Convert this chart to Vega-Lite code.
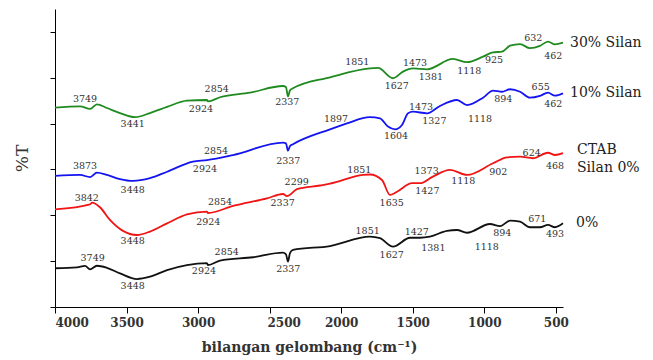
{
  "$schema": "https://vega.github.io/schema/vega-lite/v6.json",
  "width": 508,
  "height": 298,
  "autosize": {"type": "none"},
  "padding": {"left": 55, "top": 9, "right": 90, "bottom": 53},
  "config": {"view": {"stroke": null}, "font": "DejaVu Serif"},
  "datasets": {
    "spectra": [
      {"s": "30% Silan", "wn": 4000, "v": 8.70}, {"s": "30% Silan", "wn": 3825, "v": 8.75}, {"s": "30% Silan", "wn": 3755, "v": 8.64}, {"s": "30% Silan", "wn": 3707, "v": 8.84}, {"s": "30% Silan", "wn": 3637, "v": 8.68}, {"s": "30% Silan", "wn": 3546, "v": 8.46}, {"s": "30% Silan", "wn": 3441, "v": 8.28}, {"s": "30% Silan", "wn": 3336, "v": 8.46}, {"s": "30% Silan", "wn": 3217, "v": 8.73}, {"s": "30% Silan", "wn": 3078, "v": 9.00}, {"s": "30% Silan", "wn": 2938, "v": 9.03}, {"s": "30% Silan", "wn": 2931, "v": 8.97}, {"s": "30% Silan", "wn": 2847, "v": 9.15}, {"s": "30% Silan", "wn": 2637, "v": 9.35}, {"s": "30% Silan", "wn": 2407, "v": 9.64}, {"s": "30% Silan", "wn": 2386, "v": 9.60}, {"s": "30% Silan", "wn": 2372, "v": 9.18}, {"s": "30% Silan", "wn": 2358, "v": 9.45}, {"s": "30% Silan", "wn": 2337, "v": 9.54}, {"s": "30% Silan", "wn": 2078, "v": 10.02}, {"s": "30% Silan", "wn": 1799, "v": 10.41}, {"s": "30% Silan", "wn": 1743, "v": 10.43}, {"s": "30% Silan", "wn": 1638, "v": 9.98}, {"s": "30% Silan", "wn": 1568, "v": 10.27}, {"s": "30% Silan", "wn": 1498, "v": 10.41}, {"s": "30% Silan", "wn": 1400, "v": 10.37}, {"s": "30% Silan", "wn": 1219, "v": 10.82}, {"s": "30% Silan", "wn": 1121, "v": 10.68}, {"s": "30% Silan", "wn": 1009, "v": 10.92}, {"s": "30% Silan", "wn": 939, "v": 11.11}, {"s": "30% Silan", "wn": 876, "v": 11.14}, {"s": "30% Silan", "wn": 820, "v": 11.40}, {"s": "30% Silan", "wn": 750, "v": 11.47}, {"s": "30% Silan", "wn": 681, "v": 11.29}, {"s": "30% Silan", "wn": 611, "v": 11.39}, {"s": "30% Silan", "wn": 555, "v": 11.58}, {"s": "30% Silan", "wn": 506, "v": 11.46}, {"s": "30% Silan", "wn": 450, "v": 11.53},
      {"s": "10% Silan", "wn": 4000, "v": 5.72}, {"s": "10% Silan", "wn": 3825, "v": 5.76}, {"s": "10% Silan", "wn": 3755, "v": 5.67}, {"s": "10% Silan", "wn": 3707, "v": 5.86}, {"s": "10% Silan", "wn": 3637, "v": 5.76}, {"s": "10% Silan", "wn": 3546, "v": 5.58}, {"s": "10% Silan", "wn": 3455, "v": 5.50}, {"s": "10% Silan", "wn": 3336, "v": 5.62}, {"s": "10% Silan", "wn": 3217, "v": 5.90}, {"s": "10% Silan", "wn": 3036, "v": 6.34}, {"s": "10% Silan", "wn": 2938, "v": 6.41}, {"s": "10% Silan", "wn": 2756, "v": 6.63}, {"s": "10% Silan", "wn": 2407, "v": 7.17}, {"s": "10% Silan", "wn": 2386, "v": 7.14}, {"s": "10% Silan", "wn": 2372, "v": 6.82}, {"s": "10% Silan", "wn": 2358, "v": 7.02}, {"s": "10% Silan", "wn": 2337, "v": 7.10}, {"s": "10% Silan", "wn": 2078, "v": 7.75}, {"s": "10% Silan", "wn": 1960, "v": 8.01}, {"s": "10% Silan", "wn": 1799, "v": 8.28}, {"s": "10% Silan", "wn": 1729, "v": 8.23}, {"s": "10% Silan", "wn": 1673, "v": 7.87}, {"s": "10% Silan", "wn": 1624, "v": 7.75}, {"s": "10% Silan", "wn": 1575, "v": 7.94}, {"s": "10% Silan", "wn": 1533, "v": 8.45}, {"s": "10% Silan", "wn": 1498, "v": 8.52}, {"s": "10% Silan", "wn": 1400, "v": 8.45}, {"s": "10% Silan", "wn": 1310, "v": 8.77}, {"s": "10% Silan", "wn": 1191, "v": 9.03}, {"s": "10% Silan", "wn": 1121, "v": 8.81}, {"s": "10% Silan", "wn": 1009, "v": 9.13}, {"s": "10% Silan", "wn": 939, "v": 9.44}, {"s": "10% Silan", "wn": 876, "v": 9.39}, {"s": "10% Silan", "wn": 820, "v": 9.50}, {"s": "10% Silan", "wn": 750, "v": 9.39}, {"s": "10% Silan", "wn": 681, "v": 9.13}, {"s": "10% Silan", "wn": 611, "v": 9.21}, {"s": "10% Silan", "wn": 555, "v": 9.35}, {"s": "10% Silan", "wn": 506, "v": 9.22}, {"s": "10% Silan", "wn": 450, "v": 9.32},
      {"s": "CTAB Silan 0%", "wn": 4000, "v": 4.26}, {"s": "CTAB Silan 0%", "wn": 3755, "v": 4.48}, {"s": "CTAB Silan 0%", "wn": 3741, "v": 4.55}, {"s": "CTAB Silan 0%", "wn": 3686, "v": 4.35}, {"s": "CTAB Silan 0%", "wn": 3616, "v": 3.80}, {"s": "CTAB Silan 0%", "wn": 3525, "v": 3.32}, {"s": "CTAB Silan 0%", "wn": 3427, "v": 3.14}, {"s": "CTAB Silan 0%", "wn": 3336, "v": 3.29}, {"s": "CTAB Silan 0%", "wn": 3217, "v": 3.65}, {"s": "CTAB Silan 0%", "wn": 3078, "v": 4.04}, {"s": "CTAB Silan 0%", "wn": 2938, "v": 4.16}, {"s": "CTAB Silan 0%", "wn": 2931, "v": 4.10}, {"s": "CTAB Silan 0%", "wn": 2756, "v": 4.41}, {"s": "CTAB Silan 0%", "wn": 2519, "v": 4.74}, {"s": "CTAB Silan 0%", "wn": 2407, "v": 4.93}, {"s": "CTAB Silan 0%", "wn": 2379, "v": 4.84}, {"s": "CTAB Silan 0%", "wn": 2309, "v": 5.14}, {"s": "CTAB Silan 0%", "wn": 2148, "v": 5.30}, {"s": "CTAB Silan 0%", "wn": 2078, "v": 5.38}, {"s": "CTAB Silan 0%", "wn": 1848, "v": 5.76}, {"s": "CTAB Silan 0%", "wn": 1799, "v": 5.78}, {"s": "CTAB Silan 0%", "wn": 1715, "v": 5.54}, {"s": "CTAB Silan 0%", "wn": 1659, "v": 4.89}, {"s": "CTAB Silan 0%", "wn": 1610, "v": 5.03}, {"s": "CTAB Silan 0%", "wn": 1505, "v": 5.40}, {"s": "CTAB Silan 0%", "wn": 1449, "v": 5.40}, {"s": "CTAB Silan 0%", "wn": 1359, "v": 5.69}, {"s": "CTAB Silan 0%", "wn": 1240, "v": 5.98}, {"s": "CTAB Silan 0%", "wn": 1121, "v": 5.76}, {"s": "CTAB Silan 0%", "wn": 939, "v": 6.27}, {"s": "CTAB Silan 0%", "wn": 841, "v": 6.53}, {"s": "CTAB Silan 0%", "wn": 750, "v": 6.56}, {"s": "CTAB Silan 0%", "wn": 660, "v": 6.49}, {"s": "CTAB Silan 0%", "wn": 555, "v": 6.73}, {"s": "CTAB Silan 0%", "wn": 506, "v": 6.63}, {"s": "CTAB Silan 0%", "wn": 450, "v": 6.71},
      {"s": "0%", "wn": 4000, "v": 1.69}, {"s": "0%", "wn": 3846, "v": 1.73}, {"s": "0%", "wn": 3790, "v": 1.79}, {"s": "0%", "wn": 3755, "v": 1.64}, {"s": "0%", "wn": 3707, "v": 1.80}, {"s": "0%", "wn": 3637, "v": 1.71}, {"s": "0%", "wn": 3546, "v": 1.47}, {"s": "0%", "wn": 3427, "v": 1.22}, {"s": "0%", "wn": 3336, "v": 1.32}, {"s": "0%", "wn": 3217, "v": 1.61}, {"s": "0%", "wn": 3078, "v": 1.83}, {"s": "0%", "wn": 2938, "v": 1.91}, {"s": "0%", "wn": 2931, "v": 1.83}, {"s": "0%", "wn": 2847, "v": 2.02}, {"s": "0%", "wn": 2616, "v": 2.17}, {"s": "0%", "wn": 2407, "v": 2.37}, {"s": "0%", "wn": 2386, "v": 2.30}, {"s": "0%", "wn": 2372, "v": 1.98}, {"s": "0%", "wn": 2358, "v": 2.35}, {"s": "0%", "wn": 2337, "v": 2.49}, {"s": "0%", "wn": 2078, "v": 2.66}, {"s": "0%", "wn": 1799, "v": 3.07}, {"s": "0%", "wn": 1729, "v": 3.00}, {"s": "0%", "wn": 1638, "v": 2.63}, {"s": "0%", "wn": 1519, "v": 3.02}, {"s": "0%", "wn": 1449, "v": 3.02}, {"s": "0%", "wn": 1380, "v": 3.07}, {"s": "0%", "wn": 1261, "v": 3.32}, {"s": "0%", "wn": 1191, "v": 3.36}, {"s": "0%", "wn": 1121, "v": 3.24}, {"s": "0%", "wn": 960, "v": 3.62}, {"s": "0%", "wn": 890, "v": 3.53}, {"s": "0%", "wn": 820, "v": 3.77}, {"s": "0%", "wn": 750, "v": 3.72}, {"s": "0%", "wn": 681, "v": 3.48}, {"s": "0%", "wn": 611, "v": 3.48}, {"s": "0%", "wn": 555, "v": 3.58}, {"s": "0%", "wn": 506, "v": 3.48}, {"s": "0%", "wn": 450, "v": 3.65}
    ],
    "peaks": [
      {"label": "3749", "wn": 3790, "v": 9.06}, {"label": "3441", "wn": 3457, "v": 7.97}, {"label": "2854", "wn": 2870, "v": 9.50}, {"label": "2924", "wn": 2980, "v": 8.64}, {"label": "2337", "wn": 2377, "v": 8.93}, {"label": "1851", "wn": 1888, "v": 10.68}, {"label": "1627", "wn": 1612, "v": 9.66}, {"label": "1473", "wn": 1484, "v": 10.63}, {"label": "1381", "wn": 1373, "v": 10.02}, {"label": "1118", "wn": 1105, "v": 10.30}, {"label": "925", "wn": 932, "v": 10.78}, {"label": "632", "wn": 658, "v": 11.75}, {"label": "462", "wn": 518, "v": 10.95},
      {"label": "3873", "wn": 3790, "v": 6.15}, {"label": "3448", "wn": 3457, "v": 5.10}, {"label": "2854", "wn": 2875, "v": 6.82}, {"label": "2924", "wn": 2952, "v": 6.01}, {"label": "2337", "wn": 2370, "v": 6.37}, {"label": "1897", "wn": 2036, "v": 8.20}, {"label": "1604", "wn": 1617, "v": 7.46}, {"label": "1473", "wn": 1442, "v": 8.74}, {"label": "1327", "wn": 1349, "v": 8.13}, {"label": "1118", "wn": 1030, "v": 8.20}, {"label": "894", "wn": 867, "v": 9.06}, {"label": "655", "wn": 606, "v": 9.59}, {"label": "462", "wn": 518, "v": 8.86},
      {"label": "3842", "wn": 3778, "v": 4.77}, {"label": "3448", "wn": 3457, "v": 2.89}, {"label": "2854", "wn": 2847, "v": 4.57}, {"label": "2924", "wn": 2929, "v": 3.72}, {"label": "2299", "wn": 2311, "v": 5.47}, {"label": "2337", "wn": 2409, "v": 4.52}, {"label": "1851", "wn": 1874, "v": 5.98}, {"label": "1635", "wn": 1647, "v": 4.55}, {"label": "1373", "wn": 1403, "v": 5.93}, {"label": "1427", "wn": 1398, "v": 5.07}, {"label": "1118", "wn": 1147, "v": 5.51}, {"label": "902", "wn": 902, "v": 5.90}, {"label": "624", "wn": 669, "v": 6.73}, {"label": "468", "wn": 506, "v": 6.15},
      {"label": "3749", "wn": 3737, "v": 2.12}, {"label": "3448", "wn": 3457, "v": 0.93}, {"label": "2854", "wn": 2800, "v": 2.41}, {"label": "2924", "wn": 2959, "v": 1.57}, {"label": "2337", "wn": 2370, "v": 1.64}, {"label": "1851", "wn": 1815, "v": 3.32}, {"label": "1627", "wn": 1647, "v": 2.27}, {"label": "1427", "wn": 1472, "v": 3.29}, {"label": "1381", "wn": 1356, "v": 2.59}, {"label": "1118", "wn": 983, "v": 2.60}, {"label": "894", "wn": 874, "v": 3.22}, {"label": "671", "wn": 630, "v": 3.83}, {"label": "493", "wn": 506, "v": 3.17}
    ],
    "names": [
      {"label": "30% Silan", "wn": 401, "v": 11.53},
      {"label": "10% Silan", "wn": 401, "v": 9.32},
      {"label": "CTAB", "wn": 352, "v": 6.85},
      {"label": "Silan 0%", "wn": 352, "v": 6.05},
      {"label": "0%", "wn": 359, "v": 3.68}
    ]
  },
  "layer": [
    {
      "data": {"name": "spectra"},
      "mark": {"type": "line", "strokeWidth": 1.8, "interpolate": "monotone"},
      "encoding": {
        "x": {
          "field": "wn", "type": "quantitative",
          "scale": {"domain": [4000, 450], "nice": false, "zero": false},
          "axis": {
            "title": "bilangan gelombang (cm⁻¹)",
            "values": [4000, 3750, 3500, 3250, 3000, 2750, 2500, 2250, 2000, 1750, 1500, 1250, 1000, 750, 500],
            "format": "d",
            "labelExpr": "datum.value % 500 === 0 ? datum.label : ''",
            "labelOffset": {"condition": {"test": "datum.value === 2500", "value": 14}, "value": 0},
            "tickSize": {"condition": {"test": "datum.value % 500 === 0", "value": 6}, "value": 3},
            "tickColor": "#000", "domainColor": "#000", "grid": false,
            "labelFont": "DejaVu Serif", "labelFontSize": 12, "labelFontWeight": "bold", "labelColor": "#333",
            "labelPadding": 4,
            "titleFont": "DejaVu Serif", "titleFontSize": 14, "titleFontWeight": "bold", "titleColor": "#333",
            "titlePadding": 12
          }
        },
        "y": {
          "field": "v", "type": "quantitative",
          "scale": {"domain": [0, 13], "nice": false, "zero": false},
          "axis": {
            "title": "%T",
            "values": [0, 1, 2, 3, 4, 5, 6, 7, 8, 9, 10, 11, 12, 13],
            "labels": false, "tickSize": 5, "grid": false,
            "tickColor": "#000", "domainColor": "#000",
            "titleFont": "DejaVu Serif", "titleFontSize": 17, "titleFontWeight": "normal", "titleColor": "#333",
            "titlePadding": 18
          }
        },
        "color": {
          "field": "s", "type": "nominal",
          "scale": {"domain": ["30% Silan", "10% Silan", "CTAB Silan 0%", "0%"], "range": ["#1f8a1f", "#1414f0", "#f01414", "#111111"]},
          "legend": null
        }
      }
    },
    {
      "data": {"name": "peaks"},
      "mark": {"type": "text", "font": "DejaVu Serif", "fontSize": 9.5, "color": "#333", "align": "center", "baseline": "middle"},
      "encoding": {
        "x": {"field": "wn", "type": "quantitative"},
        "y": {"field": "v", "type": "quantitative"},
        "text": {"field": "label"}
      }
    },
    {
      "data": {"name": "names"},
      "mark": {"type": "text", "font": "DejaVu Serif", "fontSize": 14, "color": "#222", "align": "left", "baseline": "middle"},
      "encoding": {
        "x": {"field": "wn", "type": "quantitative"},
        "y": {"field": "v", "type": "quantitative"},
        "text": {"field": "label"}
      }
    }
  ]
}
